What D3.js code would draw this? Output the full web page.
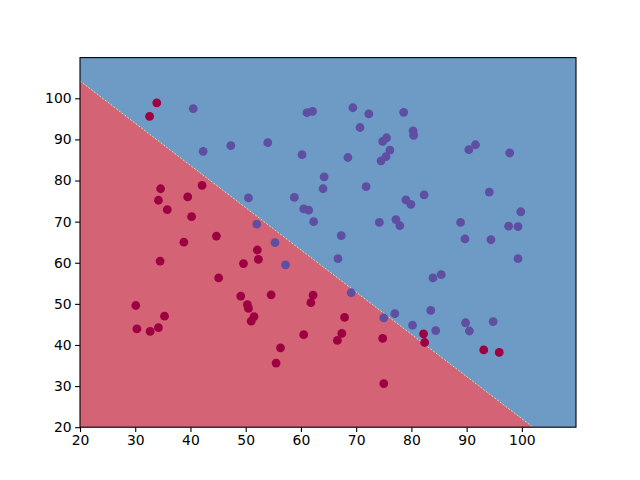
<!DOCTYPE html>
<html lang="en">
  <head>
    <meta charset="utf-8" />
    <script src="https://d3js.org/d3.v7.min.js"></script>
    <style>
      body { margin: 0; background: white; }
      text { font-family: "DejaVu Sans", sans-serif; }
    </style>
  </head>
  <body>
    <script type="text/javascript">

      // exam scores and result (0 = not admitted, 1 = admitted)
      var exam1 = [34.6, 30.3, 35.8, 60.2, 79.0, 45.1, 61.1, 75.0, 76.1, 84.4,
                   95.9, 75.0, 82.3, 69.4, 39.5, 54.0, 69.1, 67.9, 70.7, 77.0,
                   67.4, 89.7, 50.5, 34.2, 77.9, 62.3, 80.2, 93.1, 61.8, 38.8,
                   61.4, 85.4, 52.1, 52.0, 40.2, 54.6, 33.9, 64.2, 74.8, 34.2,
                   83.9, 51.5, 94.4, 82.4, 51.0, 62.2, 77.2, 97.8, 62.1, 91.6,
                   79.9, 99.3, 90.5, 34.5, 50.3, 49.6, 97.6, 32.6, 74.2, 71.8,
                   75.4, 35.3, 56.3, 30.1, 44.7, 66.6, 40.5, 49.1, 80.3, 66.7,
                   32.7, 64.0, 72.3, 60.5, 58.8, 99.8, 47.3, 50.5, 60.5, 82.2,
                   88.9, 94.8, 67.3, 57.2, 80.4, 68.5, 42.1, 75.5, 78.6, 52.3,
                   94.1, 90.4, 55.5, 74.5, 89.8, 83.5, 42.3, 99.3, 55.3, 74.8];
      var exam2 = [78.0, 43.9, 72.9, 86.3, 75.3, 56.3, 96.5, 46.6, 87.4, 43.5,
                   38.2, 30.6, 76.5, 97.7, 76.0, 89.2, 52.7, 46.7, 92.9, 47.6,
                   42.8, 65.8, 48.9, 44.2, 69.0, 70.0, 44.8, 38.8, 50.3, 65.0,
                   72.8, 57.1, 63.1, 69.4, 71.2, 52.2, 98.9, 80.9, 41.6, 75.2,
                   56.3, 46.9, 65.6, 40.6, 45.8, 52.1, 70.5, 86.7, 96.8, 88.7,
                   74.2, 61.0, 43.4, 60.4, 49.8, 59.8, 68.9, 95.6, 69.8, 78.5,
                   85.8, 47.0, 39.3, 49.6, 66.5, 41.1, 97.5, 51.9, 92.1, 61.0,
                   43.3, 78.0, 96.2, 73.1, 75.9, 72.4, 88.5, 75.8, 42.5, 42.7,
                   69.8, 45.7, 66.6, 59.5, 91.0, 85.6, 78.8, 90.4, 96.6, 60.8,
                   77.2, 87.5, 35.6, 84.8, 45.4, 48.4, 87.1, 68.8, 64.9, 89.5];
      var admitted = [0, 0, 0, 1, 1, 0, 1, 1, 1, 1,
                      0, 0, 1, 1, 0, 1, 1, 0, 1, 1,
                      0, 1, 0, 0, 1, 1, 1, 0, 0, 0,
                      1, 1, 0, 1, 0, 0, 0, 1, 0, 0,
                      1, 0, 1, 0, 0, 0, 1, 1, 1, 1,
                      1, 1, 1, 0, 0, 0, 1, 0, 1, 1,
                      1, 0, 0, 0, 0, 0, 1, 0, 1, 1,
                      0, 1, 1, 1, 1, 1, 1, 1, 0, 0,
                      1, 1, 1, 1, 1, 1, 0, 1, 1, 0,
                      1, 1, 0, 1, 1, 1, 1, 1, 1, 1];

      // decision boundary end points (left edge, bottom edge)
      var boundaryX = [20, 102.0];
      var boundaryY = [104.2, 20];

      // axis ranges and ticks
      var xDomain = [20, 109.8];
      var yDomain = [20, 109.9];
      var xTicks = [20, 30, 40, 50, 60, 70, 80, 90, 100];
      var yTicks = [20, 30, 40, 50, 60, 70, 80, 90, 100];

      // svg sizes (matplotlib default axes box)
      var w = 640;
      var h = 480;
      var leftPlot = 80;
      var rightPlot = 576;
      var topPlot = 57.6;
      var bottomPlot = 427.2;

      var svg = d3.select("body")
                  .append("svg")
                  .attr("width", w)
                  .attr("height", h);

      var xScale = d3.scaleLinear().domain(xDomain).range([leftPlot, rightPlot]);
      var yScale = d3.scaleLinear().domain(yDomain).range([bottomPlot, topPlot]);

      // blue region covers everything, red region below boundary
      svg.append("rect")
         .attr("x", leftPlot)
         .attr("y", topPlot)
         .attr("width", rightPlot - leftPlot)
         .attr("height", bottomPlot - topPlot)
         .attr("fill", "#6d9bc6");

      var redPoly = [[xDomain[0], yDomain[0]],
                     [boundaryX[0], boundaryY[0]],
                     [boundaryX[1], boundaryY[1]]];
      svg.append("path")
         .attr("d", d3.line()
                      .x(function(d) { return xScale(d[0]); })
                      .y(function(d) { return yScale(d[1]); })(redPoly) + "Z")
         .attr("fill", "#d46376");

      // thin light edge where contour levels change
      svg.append("line")
         .attr("x1", xScale(boundaryX[0]))
         .attr("y1", yScale(boundaryY[0]))
         .attr("x2", xScale(boundaryX[1]))
         .attr("y2", yScale(boundaryY[1]))
         .attr("stroke", "#e8f0a8")
         .attr("stroke-width", 0.8)
         .attr("stroke-dasharray", "2,1.5");

      // scatter points
      svg.append("g")
         .selectAll("circle")
         .data(exam1)
         .enter()
         .append("circle")
         .attr("cx", function(d) { return xScale(d); })
         .attr("cy", function(d, i) { return yScale(exam2[i]); })
         .attr("r", 4.4)
         .attr("fill", function(d, i) {
           return admitted[i] == 1 ? "#5e4fa2" : "#9e0142";
         });

      // axes
      var xAxis = d3.axisBottom(xScale)
                    .tickValues(xTicks)
                    .tickSize(4.9)
                    .tickPadding(3.5);
      var yAxis = d3.axisLeft(yScale)
                    .tickValues(yTicks)
                    .tickSize(4.9)
                    .tickPadding(3.5);

      var gx = svg.append("g")
                  .attr("transform", "translate(0," + bottomPlot + ")")
                  .call(xAxis);
      var gy = svg.append("g")
                  .attr("transform", "translate(" + leftPlot + ",0)")
                  .call(yAxis);

      [gx, gy].forEach(function(g) {
        g.select(".domain").remove();
        g.selectAll("line").attr("stroke", "black").attr("stroke-width", 1.1);
        g.selectAll("text")
         .attr("fill", "black")
         .style("font-size", "13.9px")
         .style("font-family", "'DejaVu Sans', sans-serif");
      });

      // frame
      svg.append("rect")
         .attr("x", leftPlot)
         .attr("y", topPlot)
         .attr("width", rightPlot - leftPlot)
         .attr("height", bottomPlot - topPlot)
         .attr("fill", "none")
         .attr("stroke", "black")
         .attr("stroke-width", 1.1);

    </script>
  </body>
</html>
